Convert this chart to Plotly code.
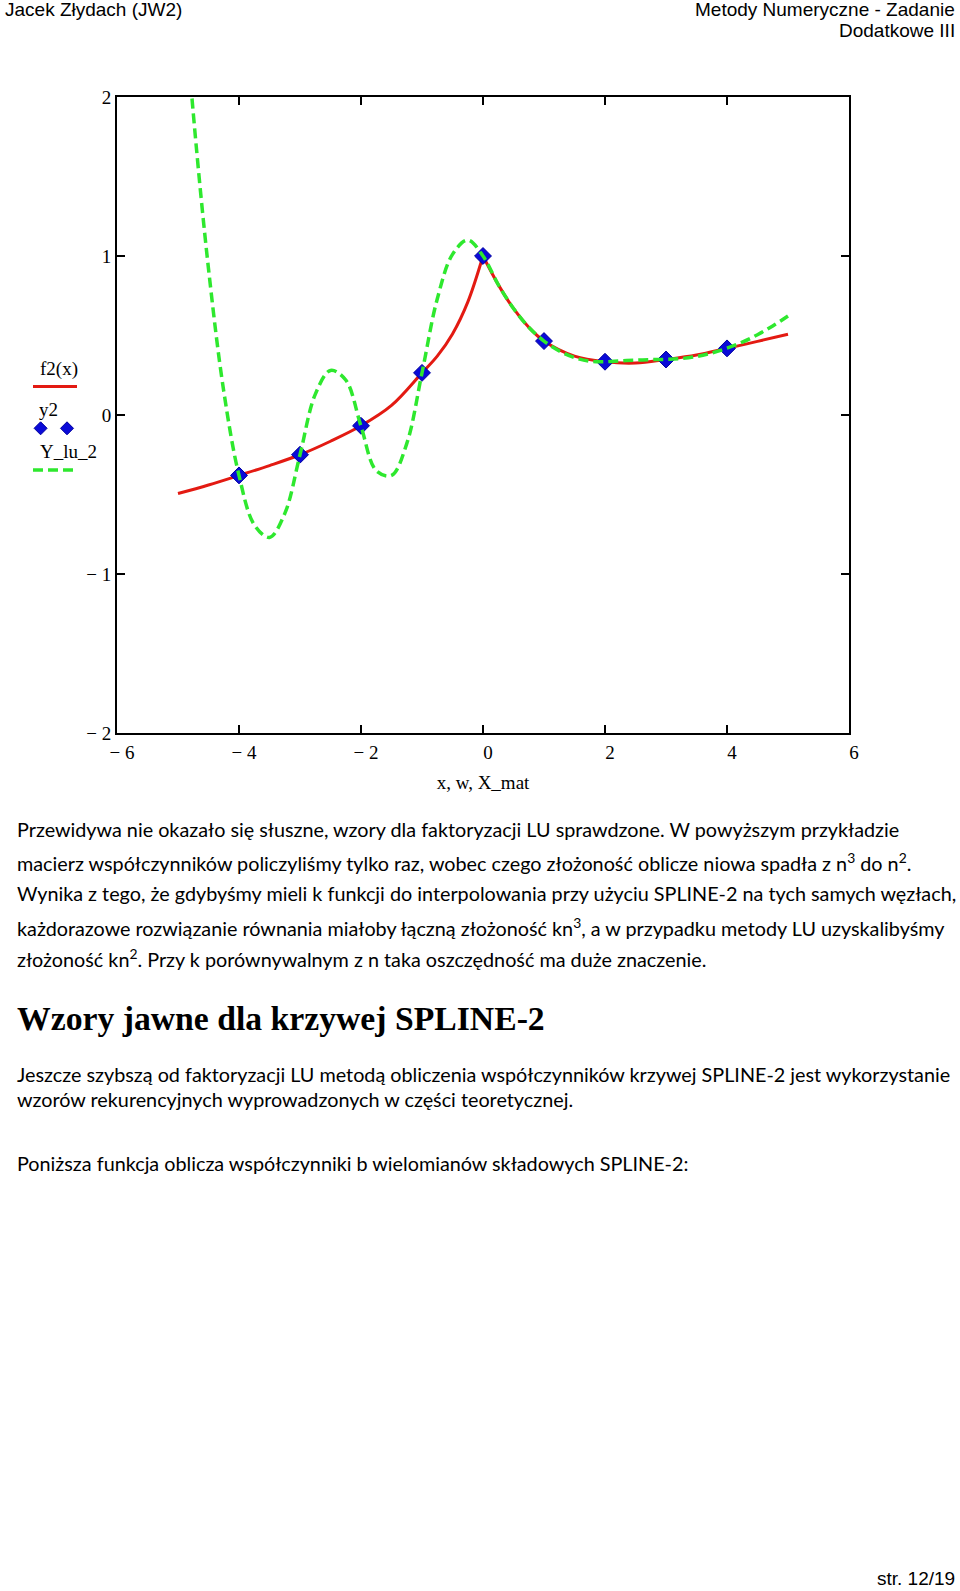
import plotly.graph_objects as go

# ---------------- data ----------------
node_x = [-4, -3, -2, -1, 0, 1, 2, 3, 4]
node_y = [-0.38, -0.25, -0.068, 0.265, 1.0, 0.465, 0.335, 0.349, 0.419]

f2_x = [-5, -4.5, -4, -3.5, -3, -2.5, -2, -1.5, -1, -0.75, -0.5, -0.25, 0,
        0.25, 0.5, 0.75, 1, 1.5, 2, 2.5, 3, 3.5, 4, 4.5, 5]
f2_y = [-0.494, -0.44, -0.38, -0.318, -0.25, -0.165, -0.068, 0.06, 0.265, 0.37, 0.51, 0.71, 1.0,
        0.82, 0.67, 0.552, 0.465, 0.37, 0.335, 0.327, 0.349, 0.377, 0.419, 0.463, 0.508]

lu_x = [-5, -4.75, -4.5, -4.25, -4, -3.75, -3.5, -3.25, -3, -2.75, -2.5, -2.25, -2,
        -1.75, -1.5, -1.25, -1, -0.75, -0.5, -0.25, 0, 0.25, 0.5, 0.75, 1,
        1.25, 1.5, 1.75, 2, 2.25, 2.5, 2.75, 3, 3.25, 3.5, 3.75, 4, 4.25, 4.5, 4.75, 5]
lu_y = [3.12, 1.90, 0.92, 0.15, -0.38, -0.69, -0.77, -0.62, -0.25, 0.13, 0.28, 0.22, -0.07,
        -0.35, -0.38, -0.18, 0.265, 0.73, 1.01, 1.10, 1.0, 0.82, 0.67, 0.552, 0.465,
        0.403, 0.361, 0.338, 0.335, 0.341, 0.345, 0.348, 0.35, 0.355, 0.368, 0.39, 0.42,
        0.458, 0.505, 0.56, 0.623]

x_ticks = [-6, -4, -2, 0, 2, 4, 6]
x_ticktext = ["\u2212 6", "\u2212 4", "\u2212 2", "0", "2", "4", "6"]
y_ticks = [-2, -1, 0, 1, 2]
y_ticktext = ["\u2212 2", "\u2212 1", "0", "1", "2"]

legend_names = ["f2(x)", "y2", "Y_lu_2"]
x_title = "x, w, X_mat"

header_left = "Jacek Złydach (JW2)"
header_right = ["Metody Numeryczne - Zadanie", "Dodatkowe III"]
footer = "str. 12/19"
para1 = [
    "Przewidywa nie okazało się słuszne, wzory dla faktoryzacji LU sprawdzone. W powyższym przykładzie",
    "macierz współczynników policzyliśmy tylko raz, wobec czego złożoność oblicze niowa spadła z n<sup>3</sup> do n<sup>2</sup>.",
    "Wynika z tego, że gdybyśmy mieli k funkcji do interpolowania przy użyciu SPLINE-2 na tych samych węzłach,",
    "każdorazowe rozwiązanie równania miałoby łączną złożoność kn<sup>3</sup>, a w przypadku metody LU uzyskalibyśmy",
    "złożoność kn<sup>2</sup>. Przy k porównywalnym z n taka oszczędność ma duże znaczenie.",
]
heading = "Wzory jawne dla krzywej SPLINE-2"
para2 = [
    "Jeszcze szybszą od faktoryzacji LU metodą obliczenia współczynników krzywej SPLINE-2 jest wykorzystanie",
    "wzorów rekurencyjnych wyprowadzonych w części teoretycznej.",
]
para3 = "Poniższa funkcja oblicza współczynniki b wielomianów składowych SPLINE-2:"

# ---------------- page geometry ----------------
W, H = 960, 1591
L, R, T, B = 117, 849, 97, 733  # plot area in pixels


def px(xp):
    return (xp - L) / (R - L)


def py(yp):
    return (B - yp) / (B - T)


RED = "#e31a12"
GREEN = "#2ee82e"
BLUE = "#0a0ad8"
SERIF = "Liberation Serif"
SANS = "Liberation Sans"
BODY = "Lato"
BODY_SIZE = 19.8

fig = go.Figure()

# red curve, split at the cusp (x = 0)
i0 = f2_x.index(0)
for xs, ys in [(f2_x[:i0 + 1], f2_y[:i0 + 1]), (f2_x[i0:], f2_y[i0:])]:
    fig.add_trace(go.Scatter(x=xs, y=ys, mode="lines",
                             line=dict(color=RED, width=3, shape="spline"),
                             showlegend=False, hoverinfo="skip"))

fig.add_trace(go.Scatter(x=node_x, y=node_y, mode="markers",
                         marker=dict(symbol="diamond", size=13, color=BLUE,
                                     line=dict(color="#0000a0", width=1)),
                         showlegend=False))

fig.add_trace(go.Scatter(x=lu_x, y=lu_y, mode="lines",
                         line=dict(color=GREEN, width=3.5, dash="10px,5px", shape="spline"),
                         showlegend=False, hoverinfo="skip"))

axis_common = dict(showgrid=False, zeroline=False, showline=True, linewidth=2,
                   linecolor="black", mirror="ticks", ticks="inside", ticklen=8,
                   tickwidth=2, tickcolor="black",
                   tickfont=dict(family=SERIF, size=19, color="black"))

fig.update_xaxes(range=[-6, 6], tickmode="array", tickvals=x_ticks, ticktext=x_ticktext,
                 ticklabelshift=5, ticklabelstandoff=1,
                 title=dict(text=x_title, font=dict(family=SERIF, size=19, color="black"),
                            standoff=14),
                 **axis_common)
fig.update_yaxes(range=[-2, 2], tickmode="array", tickvals=y_ticks, ticktext=y_ticktext,
                 ticklabelstandoff=0, **axis_common)

shapes = []
annotations = []


def txt(x, y, s, family, size, xanchor="left", yanchor="middle", weight="normal"):
    annotations.append(dict(x=px(x), y=py(y), xref="paper", yref="paper", text=s,
                            showarrow=False, xanchor=xanchor, yanchor=yanchor,
                            align=xanchor if xanchor in ("left", "right") else "center",
                            font=dict(family=family, size=size, color="black", weight=weight)))


# ---- legend (Mathcad style: name above the sample) ----
txt(38, 369, legend_names[0], SERIF, 19)
shapes.append(dict(type="line", xref="paper", yref="paper", x0=px(33), x1=px(77),
                   y0=py(386.5), y1=py(386.5), line=dict(color=RED, width=3)))
txt(37, 410, legend_names[1], SERIF, 19)
for cx in (40.6, 67):
    shapes.append(dict(type="path", xref="paper", yref="paper",
                       xsizemode="pixel", ysizemode="pixel",
                       xanchor=px(cx), yanchor=py(428.3),
                       path="M -6.5 0 L 0 6.5 L 6.5 0 L 0 -6.5 Z",
                       fillcolor=BLUE, line=dict(color="#0000a0", width=1)))
txt(38, 451, legend_names[2], SERIF, 19)
shapes.append(dict(type="line", xref="paper", yref="paper", x0=px(33), x1=px(78),
                   y0=py(470), y1=py(470), line=dict(color=GREEN, width=3.5, dash="10px,5px")))

# ---- page text ----
txt(3, 10, header_left, SANS, 19)
txt(957, 10, header_right[0], SANS, 19, xanchor="right")
txt(957, 30.5, header_right[1], SANS, 19, xanchor="right")
txt(957, 1578, footer, SANS, 19, xanchor="right")

for s, y in zip(para1, [829, 861.5, 893, 926.5, 958]):
    txt(15, y, s, BODY, BODY_SIZE)
txt(15, 1018, heading, SERIF, 33.7, weight="bold")
for s, y in zip(para2, [1073.6, 1099]):
    txt(15, y, s, BODY, BODY_SIZE)
txt(15, 1163, para3, BODY, BODY_SIZE)

fig.update_layout(width=W, height=H, autosize=False,
                  margin=dict(l=L, r=W - R, t=T, b=H - B, pad=0),
                  paper_bgcolor="white", plot_bgcolor="white",
                  shapes=shapes, annotations=annotations, showlegend=False)

fig.write_html("out.html", config={"displayModeBar": False},
               post_script="document.body.style.margin='0';")
